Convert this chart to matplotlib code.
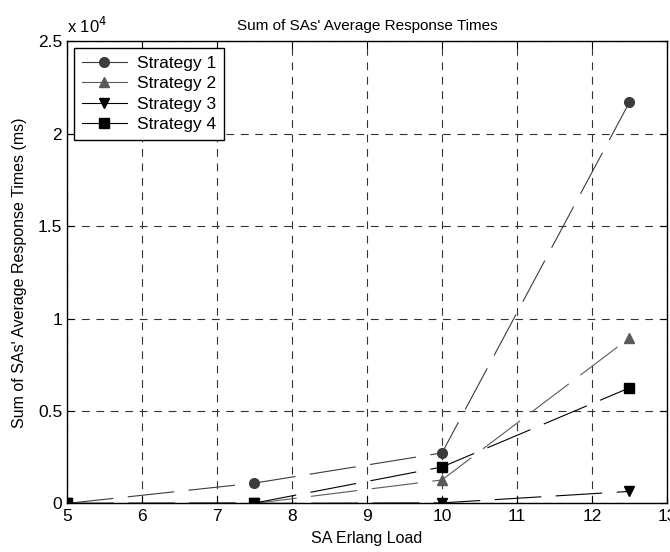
import matplotlib
matplotlib.use("Agg")
import matplotlib.pyplot as plt

plt.rcParams['font.family'] = ['Liberation Sans', 'DejaVu Sans']

load = [5, 7.5, 10, 12.5]
strategy1 = [0, 1100, 2730, 21700]
strategy2 = [0, 0, 1270, 8950]
strategy3 = [0, 0, 30, 650]
strategy4 = [0, 20, 1970, 6250]

names = ['Strategy 1', 'Strategy 2', 'Strategy 3', 'Strategy 4']
series = [strategy1, strategy2, strategy3, strategy4]
markers = ['o', '^', 'v', 's']
colors = ['#3c3c3c', '#5a5a5a', 'black', 'black']

fig = plt.figure(figsize=(6.7, 5.52), dpi=100)
ax = fig.add_axes([0.1, 0.088, 0.8955, 0.8375])

for name, vals, m, c in zip(names, series, markers, colors):
    ax.plot(load, vals, color=c, linewidth=0.8, dashes=(42, 13),
            marker=m, markersize=7, markerfacecolor=c, markeredgecolor=c,
            label=name)

ax.set_xlim(5, 13)
ax.set_ylim(0, 25000)
ax.set_xticks(range(5, 14))
yt = [0, 5000, 10000, 15000, 20000, 25000]
ax.set_yticks(yt)
ax.set_yticklabels(['0', '0.5', '1', '1.5', '2', '2.5'])
ax.tick_params(direction='in', labelsize=12.5, length=5, top=True, right=True)
ax.tick_params(axis='x', pad=4)

ax.grid(True, color='#333333', linestyle=(0, (7, 6)), linewidth=0.8)
for s in ax.spines.values():
    s.set_linewidth(1.0)

ax.set_title("Sum of SAs' Average Response Times", fontsize=11, pad=8)
ax.set_xlabel('SA Erlang Load', fontsize=11.5, labelpad=5)
ax.set_ylabel("Sum of SAs' Average Response Times (ms)", fontsize=11.5, labelpad=8)
ax.text(0.0, 1.012, r'x 10$^4$', transform=ax.transAxes, fontsize=12,
        ha='left', va='bottom')

leg = ax.legend(loc='upper left', fontsize=12.5, handlelength=2.6,
                fancybox=False, edgecolor='black', framealpha=1,
                borderaxespad=0.4, labelspacing=0.3, handletextpad=0.6,
                borderpad=0.45)
leg.get_frame().set_linewidth(1.0)
for line in leg.get_lines():
    line.set_linestyle('-')

fig.savefig('out.png', dpi=100)
